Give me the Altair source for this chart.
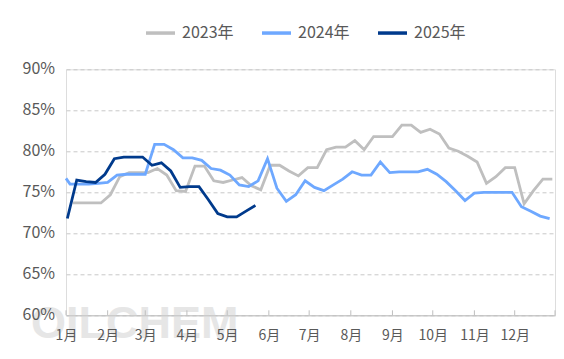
import altair as alt
import pandas as pd

years = ["2023年", "2024年", "2025年"]
colors = ["#BFBFBF", "#6EA8FF", "#003A8C"]

# day-of-year of each weekly observation
days_2023 = [5 + 7 * i for i in range(52)]
vals_2023 = [73.7, 73.7, 73.7, 73.7, 74.7, 76.9, 77.4, 77.4, 77.4, 77.9,
             77.1, 75.2, 75.1, 78.2, 78.2, 76.4, 76.2, 76.5, 76.8, 75.8,
             75.3, 78.3, 78.3, 77.6, 77.0, 78.0, 78.0, 80.2, 80.5, 80.5,
             81.3, 80.2, 81.8, 81.8, 81.8, 83.2, 83.2, 82.3, 82.7, 82.1,
             80.4, 80.0, 79.4, 78.7, 76.1, 76.9, 78.0, 78.0, 73.6, 75.2,
             76.6, 76.6]

days_2024 = [0] + [3 + 7 * i for i in range(52)]
vals_2024 = [76.7, 76.0, 76.0, 76.0, 76.1, 76.2, 77.1, 77.2, 77.2, 77.2,
             80.85, 80.85, 80.2, 79.2, 79.2, 78.9, 77.9, 77.7, 77.1, 75.9,
             75.7, 76.4, 79.1, 75.5, 73.9, 74.7, 76.4, 75.6, 75.2, 75.9,
             76.6, 77.5, 77.1, 77.1, 78.7, 77.4, 77.5, 77.5, 77.5, 77.8,
             77.2, 76.3, 75.2, 74.0, 74.9, 75.0, 75.0, 75.0, 75.0, 73.25,
             72.7, 72.1, 71.8]

days_2025 = [1 + 7 * i for i in range(21)]
vals_2025 = [71.8, 76.5, 76.3, 76.2, 77.2, 79.1, 79.3, 79.3, 79.3, 78.3,
             78.6, 77.6, 75.6, 75.7, 75.7, 74.1, 72.4, 72.0, 72.0, 72.7,
             73.4]

month_starts = [0, 31, 59, 90, 120, 151, 181, 212, 243, 273, 304, 334]
month_labels = ["1月", "2月", "3月", "4月", "5月", "6月", "7月", "8月",
                "9月", "10月", "11月", "12月"]
axis_end = 364
y_ticks = [60, 65, 70, 75, 80, 85, 90]
y_labels = ["60%", "65%", "70%", "75%", "80%", "85%", "90%"]
watermark = "OILCHEM"

rows = []
for yr, ds, vs in zip(years, [days_2023, days_2024, days_2025],
                      [vals_2023, vals_2024, vals_2025]):
    for d, v in zip(ds, vs):
        rows.append({"day": d, "value": v, "year": yr})
df = pd.DataFrame(rows)

FONT = "Noto Sans CJK SC"
TXT = "#595959"

label_expr = "".join(f"datum.value == {d} ? '{m}' : "
                     for d, m in zip(month_starts, month_labels)) + "''"

xscale = alt.Scale(domain=[0, axis_end], nice=False, zero=False)
yscale = alt.Scale(domain=[60, 90], nice=False, zero=False)

x_enc = alt.X("day:Q", scale=xscale, title=None,
              axis=alt.Axis(values=month_starts, labelExpr=label_expr,
                            grid=False, ticks=False, domain=True,
                            domainColor="#BFBFBF", domainWidth=1,
                            labelFont=FONT, labelFontSize=14, labelColor=TXT,
                            labelPadding=13, labelAlign="center",
                            labelFlush=False, labelOverlap=False, zindex=1))

wm = alt.Chart(pd.DataFrame({"t": [watermark]})).mark_text(
    align="left", baseline="alphabetic", fontSize=45,
    font="Liberation Sans", fontWeight="bold", color="#e6e6e6"
).encode(x=alt.value(-35), y=alt.value(268.5), text="t:N")

lines = alt.Chart(df).mark_line(strokeWidth=2.8).encode(
    x=x_enc,
    y=alt.Y("value:Q", scale=yscale, title=None,
            axis=alt.Axis(values=y_ticks, labels=False,
                          domain=False, ticks=False, grid=True,
                          gridColor="#C8C8C8", gridDash=[4, 3], gridWidth=1)),
    color=alt.Color("year:N",
                    scale=alt.Scale(domain=years, range=colors),
                    legend=alt.Legend(orient="none", legendX=78, legendY=-53,
                                      direction="horizontal", title=None,
                                      symbolType="stroke", symbolSize=841,
                                      symbolStrokeWidth=3.5,
                                      labelFont=FONT, labelFontSize=16,
                                      labelColor=TXT, labelOffset=5,
                                      columnPadding=21)),
    order=alt.Order("day:Q"),
)

tick_df = pd.DataFrame({"day": month_starts + [axis_end]})
ticks = alt.Chart(tick_df).mark_rule(color="#BFBFBF", strokeWidth=1).encode(
    x=x_enc,
    y=alt.value(246), y2=alt.value(241),
)

ylab_df = pd.DataFrame({"v": y_ticks, "lab": y_labels})
ylabs = alt.Chart(ylab_df).mark_text(
    align="right", baseline="middle", font=FONT, fontSize=16, color=TXT
).encode(
    x=alt.value(-11),
    y=alt.Y("v:Q", scale=yscale),
    text="lab:N",
)

chart = alt.layer(wm, lines, ticks, ylabs).properties(
    width=489, height=246,
    autosize=alt.AutoSizeParams(type="none"),
    padding={"left": 58, "top": 61.3, "right": 1, "bottom": 35.7},
).configure_view(stroke=None).configure(font=FONT)

chart.save("out.html", embed_options={"renderer": "svg", "actions": False})
